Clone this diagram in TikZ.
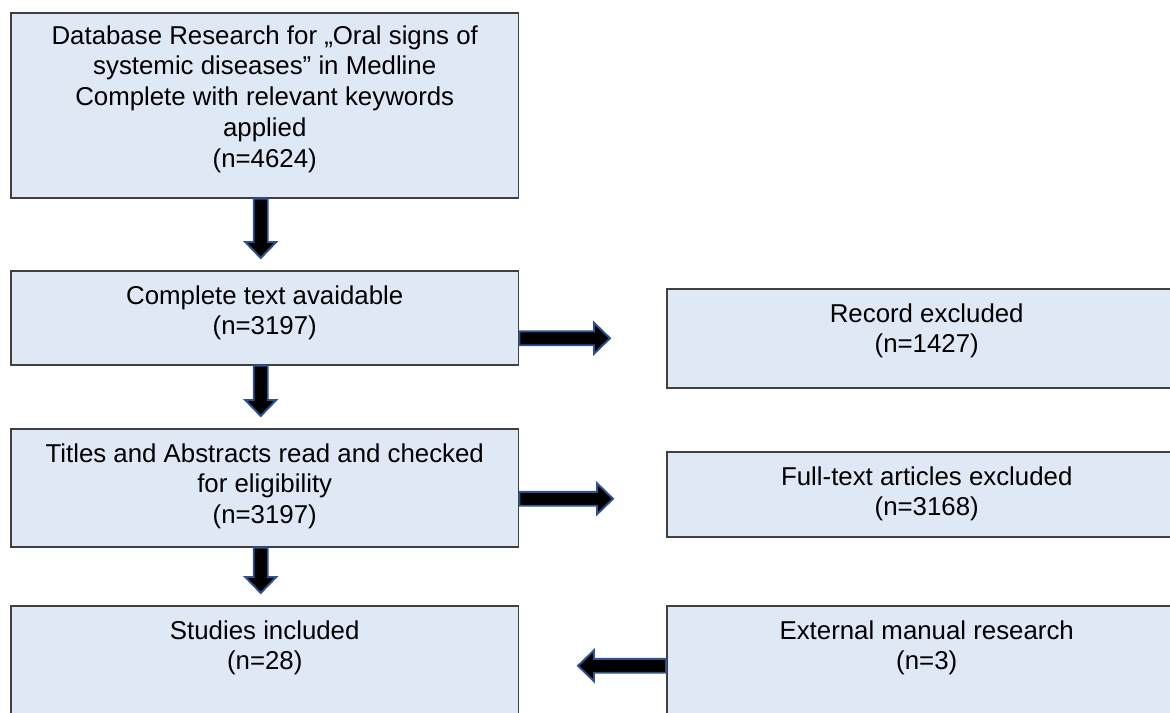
\documentclass[tikz,border=0pt]{standalone}
\usepackage{fontspec}
\setmainfont{Liberation Sans}
\usepackage{tikz}
\usetikzlibrary{calc,positioning}
\definecolor{boxfill}{RGB}{222,233,245}
\definecolor{boxline}{RGB}{64,64,64}
\definecolor{arrowblue}{RGB}{47,82,143}

\begin{document}
\begin{tikzpicture}[x=0.02cm,y=-0.02cm,
   bx/.style={draw=boxline,line width=0.9pt,fill=boxfill,anchor=north west,
     minimum width=10.16cm,inner sep=0},
   rbx/.style={bx,minimum width=10.4cm},
   tx/.style={align=center,inner sep=0,font=\fontsize{14.7}{17.5}\selectfont},
   blk/.style={fill=black,draw=arrowblue,line width=1.1pt,
     to path={($(\tikztostart)!0.14cm!90:(\tikztotarget)$)
       -- ($(\tikztotarget)!0.32cm!(\tikztostart)!0.14cm!-90:(\tikztostart)$)
       -- ($(\tikztotarget)!0.32cm!(\tikztostart)!0.31cm!-90:(\tikztostart)$)
       -- (\tikztotarget)
       -- ($(\tikztotarget)!0.32cm!(\tikztostart)!0.31cm!90:(\tikztostart)$)
       -- ($(\tikztotarget)!0.32cm!(\tikztostart)!0.14cm!90:(\tikztostart)$)
       -- ($(\tikztostart)!0.14cm!-90:(\tikztotarget)$) -- cycle}}]
  \useasboundingbox (0,0) rectangle (1170,713);
  % left column
  \node[bx,minimum height=3.7cm]  (db)    at (10,12)  {};
  \node[bx,minimum height=1.88cm] (full)  at (10,270) {};
  \node[bx,minimum height=2.36cm] (title) at (10,428) {};
  \node[bx,minimum height=2.4cm]  (incl)  at (10,605) {};
  % right column
  \node[rbx,minimum height=1.98cm] (rec) at (666,288) {};
  \node[rbx,minimum height=1.7cm]  (ftx) at (666,451) {};
  \node[rbx,minimum height=2.4cm]  (ext) at (666,605) {};
  % texts
  \node[tx,below=0.26cm of db.north] (dbt) {Database Research for „Oral signs of\\systemic diseases” in Medline\\Complete with relevant keywords\\applied\\(n=4624)};
  \node[tx,below=0.3cm of full.north]  (fullt)  {Complete text avaidable\\(n=3197)};
  \node[tx,below=0.3cm of title.north] (titlet) {Titles and Abstracts read and checked\\for eligibility\\(n=3197)};
  \node[tx,below=0.3cm of incl.north]  (inclt)  {Studies included\\(n=28)};
  \node[tx,below=0.3cm of rec.north]   (rect)   {Record excluded\\(n=1427)};
  \node[tx,below=0.3cm of ftx.north]   (ftxt)   {Full-text articles excluded\\(n=3168)};
  \node[tx,below=0.3cm of ext.north]   (extt)   {External manual research\\(n=3)};
  % block arrows
  \draw[blk] ([xshift=-0.08cm]db.south) to ([xshift=-0.08cm,yshift=0.24cm]full.north);
  \draw[blk] ([xshift=-0.08cm]full.south) to ([xshift=-0.08cm,yshift=0.24cm]title.north);
  \draw[blk] ([xshift=-0.08cm]title.south) to ([xshift=-0.08cm,yshift=0.24cm]incl.north);
  \draw[blk] (full.east |- rec.west) to ([xshift=-1.12cm]rec.west);
  \draw[blk] ([yshift=-0.09cm]title.east |- ftx.west) to ([xshift=-1.06cm,yshift=-0.09cm]ftx.west);
  \draw[blk] (ext.west) to ([xshift=-1.76cm]ext.west);
\end{tikzpicture}
\end{document}
